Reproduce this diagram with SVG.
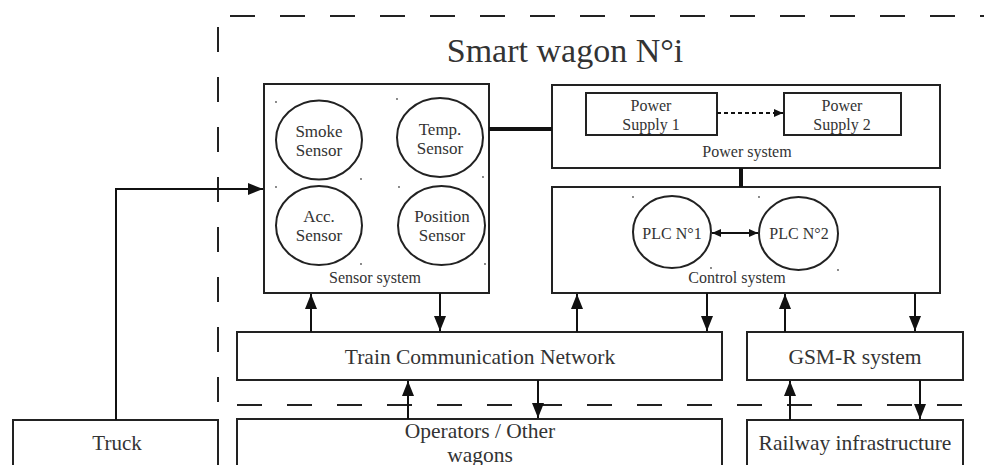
<svg xmlns="http://www.w3.org/2000/svg" width="984" height="465" viewBox="0 0 984 465">
<defs>
<marker id="ah" markerUnits="userSpaceOnUse" markerWidth="15" markerHeight="12" refX="15" refY="6" orient="auto"><path d="M0,0 L15,6 L0,12 z" fill="#111"/></marker>
<marker id="ahs" markerUnits="userSpaceOnUse" markerWidth="9" markerHeight="8" refX="9" refY="4" orient="auto"><path d="M0,0 L9,4 L0,8 z" fill="#111"/></marker>
<marker id="ahs2" markerUnits="userSpaceOnUse" markerWidth="9" markerHeight="8" refX="0" refY="4" orient="auto"><path d="M9,0 L0,4 L9,8 z" fill="#111"/></marker>
</defs>
<style>
.box{fill:#fff;stroke:#222;stroke-width:2}
.ell{fill:#fff;stroke:#222;stroke-width:2}
.t{font-family:"Liberation Serif","Times New Roman",serif;fill:#333;text-anchor:middle}
.dash{fill:none;stroke:#222;stroke-width:2;stroke-dasharray:25 25}
.c{fill:none;stroke:#111;stroke-width:2}
.thick{fill:none;stroke:#111;stroke-width:4}
.dot{fill:#555}
</style>

<g id="boundary">
<line class="dash" x1="230" y1="16" x2="984" y2="16"/>
<line class="dash" x1="218" y1="27" x2="218" y2="402"/>
<line class="dash" x1="237" y1="405" x2="984" y2="405"/>
<text class="t" x="565" y="62" font-size="34">Smart wagon N°i</text>
</g>

<g id="sensor-system">
<rect class="box" x="264" y="84" width="225" height="209"/>
<text class="t" x="375" y="283" font-size="16">Sensor system</text>
</g>
<g id="smoke-sensor">
<ellipse class="ell" cx="319" cy="140" rx="43" ry="39.5"/>
<text class="t" x="319" y="137" font-size="17">Smoke</text>
<text class="t" x="319" y="156" font-size="17">Sensor</text>
</g>
<g id="temp-sensor">
<ellipse class="ell" cx="440" cy="137.5" rx="43" ry="39.5"/>
<text class="t" x="440" y="135" font-size="17">Temp.</text>
<text class="t" x="440" y="154" font-size="17">Sensor</text>
</g>
<g id="acc-sensor">
<ellipse class="ell" cx="319" cy="225.5" rx="43" ry="39.5"/>
<text class="t" x="319" y="222" font-size="17">Acc.</text>
<text class="t" x="319" y="241" font-size="17">Sensor</text>
</g>
<g id="position-sensor">
<ellipse class="ell" cx="441.5" cy="225.5" rx="43.5" ry="39.5"/>
<text class="t" x="442" y="222" font-size="17">Position</text>
<text class="t" x="442" y="241" font-size="17">Sensor</text>
</g>
<g id="sensor-dots">
<circle class="dot" cx="276" cy="102" r="0.9"/><circle class="dot" cx="397" cy="99" r="0.9"/>
<circle class="dot" cx="361" cy="179" r="0.9"/><circle class="dot" cx="483" cy="177" r="0.9"/>
<circle class="dot" cx="276" cy="187" r="0.9"/><circle class="dot" cx="399" cy="187" r="0.9"/>
<circle class="dot" cx="361" cy="264" r="0.9"/><circle class="dot" cx="485" cy="264" r="0.9"/>
</g>

<g id="power-system">
<rect class="box" x="552" y="85" width="388" height="83"/>
<text class="t" x="747" y="157" font-size="16">Power system</text>
</g>
<g id="power-supply-1">
<rect class="box" x="586" y="93" width="131" height="42"/>
<text class="t" x="651" y="111" font-size="16">Power</text>
<text class="t" x="651" y="130" font-size="16">Supply 1</text>
</g>
<g id="power-supply-2">
<rect class="box" x="784" y="93" width="117" height="42"/>
<text class="t" x="842" y="111" font-size="16">Power</text>
<text class="t" x="842" y="130" font-size="16">Supply 2</text>
</g>

<g id="control-system">
<rect class="box" x="552" y="187" width="388" height="106"/>
<text class="t" x="737" y="283" font-size="16">Control system</text>
</g>
<g id="plc-1">
<ellipse class="ell" cx="672" cy="232" rx="39" ry="36"/>
<text class="t" x="672" y="239" font-size="16">PLC N°1</text>
</g>
<g id="plc-2">
<ellipse class="ell" cx="798.5" cy="233.5" rx="39.5" ry="36.5"/>
<text class="t" x="799" y="239" font-size="16">PLC N°2</text>
</g>
<g id="control-dots">
<circle class="dot" cx="633" cy="197" r="0.9"/><circle class="dot" cx="759" cy="197" r="0.9"/>
<circle class="dot" cx="711" cy="268" r="0.9"/><circle class="dot" cx="838" cy="270" r="0.9"/>
</g>

<g id="tcn">
<rect class="box" x="237" y="332" width="485" height="48"/>
<text class="t" x="480" y="364" font-size="21.5">Train Communication Network</text>
</g>
<g id="gsm-r">
<rect class="box" x="747" y="332" width="216" height="48"/>
<text class="t" x="855" y="364" font-size="21.5">GSM-R system</text>
</g>
<g id="operators">
<path class="box" d="M237,470 V419 H722 V470"/>
<text class="t" x="480" y="438" font-size="21.5">Operators / Other</text>
<text class="t" x="480" y="462" font-size="21.5">wagons</text>
</g>
<g id="railway">
<path class="box" d="M747,470 V420 H963 V470"/>
<text class="t" x="855" y="450" font-size="21.5">Railway infrastructure</text>
</g>
<g id="truck">
<path class="box" d="M13,470 V420 H218 V470"/>
<text class="t" x="117" y="450" font-size="21">Truck</text>
</g>

<g id="connectors">
<polyline class="c" points="116,420 116,189 263,189" marker-end="url(#ah)"/>
<line class="thick" x1="489" y1="129" x2="552" y2="129"/>
<line class="thick" x1="741" y1="168" x2="741" y2="187"/>
<line class="c" x1="717" y1="113" x2="783" y2="113" stroke-width="1" stroke-dasharray="4 3" marker-end="url(#ahs)"/>
<line class="c" x1="712" y1="233" x2="758" y2="233" stroke-width="1.5" marker-start="url(#ahs2)" marker-end="url(#ahs)"/>
<line class="c" x1="311" y1="332" x2="311" y2="294" marker-end="url(#ah)"/>
<line class="c" x1="440" y1="293" x2="440" y2="331" marker-end="url(#ah)"/>
<line class="c" x1="577" y1="332" x2="577" y2="294" marker-end="url(#ah)"/>
<line class="c" x1="707" y1="293" x2="707" y2="331" marker-end="url(#ah)"/>
<line class="c" x1="785" y1="332" x2="785" y2="294" marker-end="url(#ah)"/>
<line class="c" x1="915" y1="293" x2="915" y2="331" marker-end="url(#ah)"/>
<line class="c" x1="408" y1="419" x2="408" y2="381" marker-end="url(#ah)"/>
<line class="c" x1="538" y1="380" x2="538" y2="418" marker-end="url(#ah)"/>
<line class="c" x1="790" y1="420" x2="790" y2="381" marker-end="url(#ah)"/>
<line class="c" x1="920" y1="380" x2="920" y2="419" marker-end="url(#ah)"/>
</g>
</svg>
